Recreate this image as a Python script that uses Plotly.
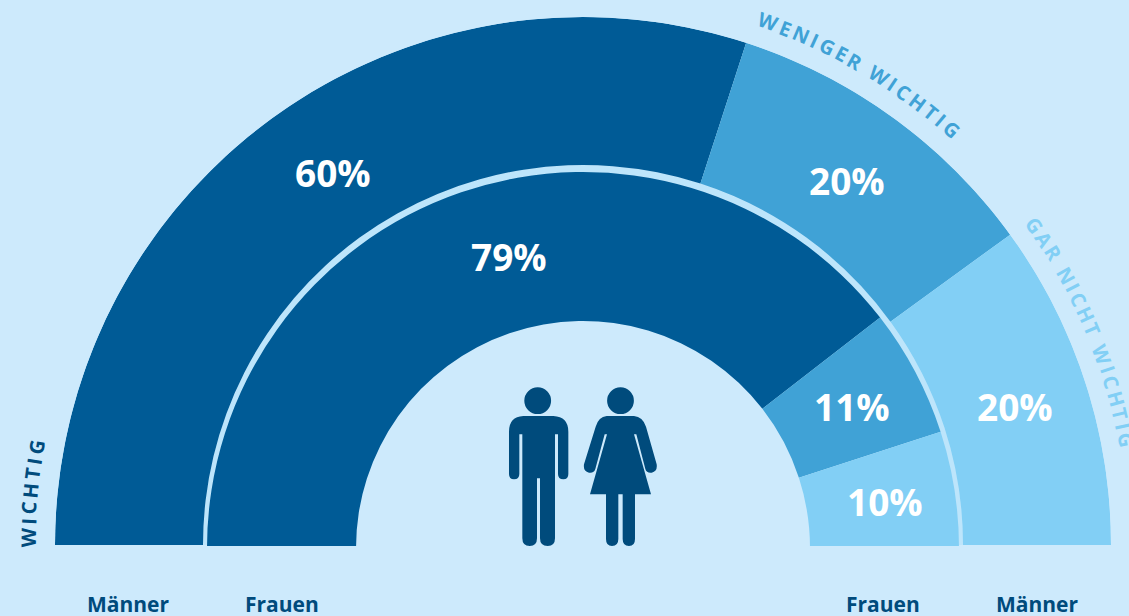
import re
import math
import plotly.graph_objects as go

W, H = 1129, 616
CX, CY = 583, 545  # centre of the outer half circle, in page pixels
CY_INNER = 548     # the inner ring sits slightly lower in the reference
R_MAX = 528

categories = ["WICHTIG", "WENIGER WICHTIG", "GAR NICHT WICHTIG"]
maenner = [60, 20, 20]
frauen = [79, 11, 10]
group_labels = ["Männer", "Frauen", "Frauen", "Männer"]

BG = "#cdeafc"
GAP = "#bde5fb"
DARK = "#005b96"
MID = "#40a2d6"
LIGHT = "#82cff5"
INK = "#004b7c"
COLORS = [DARK, MID, LIGHT]

OUTER = (380, 528)
INNER = (227, 376)


def ring(values, radii, name, subplot):
    starts = [sum(values[:i]) for i in range(len(values))]
    return go.Barpolar(
        name=name,
        subplot=subplot,
        r=[radii[1] - radii[0]] * len(values),
        base=[radii[0]] * len(values),
        theta=[(s + v / 2) * 1.8 for s, v in zip(starts, values)],
        width=[v * 1.8 for v in values],
        marker=dict(color=COLORS, line=dict(width=0)),
        hovertext=categories,
        hoverinfo="text",
    )


gap_ring = go.Barpolar(
    subplot="polar", r=[25], base=[355], theta=[90], width=[180],
    marker=dict(color=GAP, line=dict(width=0)), hoverinfo="skip",
)

fig = go.Figure([
    gap_ring,
    ring(maenner, OUTER, "Männer", "polar"),
    ring(frauen, INNER, "Frauen", "polar2"),
])


def px(x):
    return x / W


def py(y):
    return 1 - y / H


annotations = []


def label(text, x, y, size, color, weight=700, angle=0):
    annotations.append(dict(
        text=text, x=px(x), y=py(y), xref="paper", yref="paper",
        xanchor="center", yanchor="middle", showarrow=False, textangle=angle,
        font=dict(family="Open Sans", size=size, color=color, weight=weight),
    ))


# percentage labels
pct_pos = {
    ("m", 0): (333, 172.5), ("m", 1): (847, 181), ("m", 2): (1015, 406.5),
    ("f", 0): (509, 257), ("f", 1): (852, 406.5), ("f", 2): (885, 501.5),
}
for key, vals in (("m", maenner), ("f", frauen)):
    for i, v in enumerate(vals):
        x, y = pct_pos[(key, i)]
        label(f"{v}%", x, y, 37, "white")

# group labels under the arc
for text, x in zip(group_labels, [128, 282, 883, 1037]):
    label(text, x, 603.5, 21, INK)

# curved category labels, one character at a time
ADV = {"W": .95, "E": .56, "N": .78, "I": .34, "G": .72, "R": .63, "C": .64,
       "H": .78, "T": .58, "A": .70, " ": .30}


def curved(text, a0, a1, radius, color):
    half = [ADV[c] / 2 + 0.1 for c in text]
    pos = [0.0]
    for i in range(1, len(text)):
        pos.append(pos[-1] + half[i - 1] + half[i])
    for c, p in zip(text, pos):
        a = a0 + (a1 - a0) * p / pos[-1]
        if c == " ":
            continue
        rad = math.radians(a)
        label(c, CX + radius * math.cos(rad), CY - radius * math.sin(rad), 20, color,
              weight=700, angle=90 - a)


curved(categories[0], 179.2, 169.9, 555, INK)
curved(categories[1], 70.5, 48.4, 555, MID)
curved(categories[2], 35.3, 11.0, 553, LIGHT)


# pictograms: path coordinates are 3x-zoom pixels of the icon box
def icon_path(d, ox=490, oy=375, k=3):
    nums = iter(re.findall(r"-?\d+\.?\d*|[A-Za-z]", d))
    out = []
    for tok in nums:
        if tok.isalpha():
            out.append(tok)
        else:
            x = float(tok)
            y = float(next(nums))
            out.append(f"{px(ox + x / k):.5f},{py(oy + y / k):.5f}")
    return " ".join(out)


MAN = ("M 100 123 L 190 123 Q 235 125 235 170 L 235 297 Q 235 313 220 313 Q 204 313 204 297 "
       "L 204 178 L 195 178 L 195 490 Q 195 513 173 513 Q 150 513 150 490 L 150 310 L 141 310 "
       "L 141 490 Q 141 513 119 513 Q 97 513 97 490 L 97 178 L 88 178 L 88 297 Q 88 313 72 313 "
       "Q 57 313 57 297 L 57 170 Q 57 125 100 123 Z")
WOMAN = ("M 350 123 L 432 123 Q 458 125 468 155 L 500 268 Q 503 288 485 293 Q 470 295 466 282 "
         "L 439 178 L 432 178 L 483 358 L 435 358 L 435 492 Q 435 513 417 513 Q 398 513 398 492 "
         "L 398 358 L 385 358 L 385 492 Q 385 513 366 513 Q 348 513 348 492 L 348 358 L 300 358 "
         "L 351 178 L 344 178 L 316 282 Q 312 295 297 293 Q 279 288 282 268 L 317 155 "
         "Q 326 125 350 123 Z")

shapes = [
    dict(type="path", path=icon_path(MAN), xref="paper", yref="paper",
         fillcolor=INK, line=dict(width=0)),
    dict(type="path", path=icon_path(WOMAN), xref="paper", yref="paper",
         fillcolor=INK, line=dict(width=0)),
    # trims the lowered inner ring to the shared baseline
    dict(type="rect", xref="paper", yref="paper", x0=px(200), x1=px(966),
         y0=py(CY_INNER + 1), y1=py(546), fillcolor=BG, line=dict(width=0), layer="above"),
]
for hx, hy, hr in [(537.7, 400.7, 13.4), (620.5, 400.7, 13.4)]:
    shapes.append(dict(type="circle", xref="paper", yref="paper",
                       x0=px(hx - hr), x1=px(hx + hr), y0=py(hy + hr), y1=py(hy - hr),
                       fillcolor=INK, line=dict(width=0)))


def polar_layout(cy):
    return dict(
        bgcolor="rgba(0,0,0,0)",
        domain=dict(x=[px(CX - R_MAX), px(CX + R_MAX)], y=[py(cy), py(cy - R_MAX)]),
        sector=[0, 180],
        barmode="overlay",
        angularaxis=dict(visible=False, rotation=180, direction="clockwise",
                         thetaunit="degrees", showgrid=False),
        radialaxis=dict(visible=False, range=[0, R_MAX], showgrid=False),
    )


fig.update_layout(
    width=W, height=H,
    margin=dict(l=0, r=0, t=0, b=0),
    paper_bgcolor=BG,
    showlegend=False,
    annotations=annotations,
    shapes=shapes,
    polar=polar_layout(CY),
    polar2=polar_layout(CY_INNER),
)

fig.write_html(
    "out.html",
    config=dict(displayModeBar=False),
    post_script="document.body.style.margin='0';document.body.style.overflow='hidden';",
)
